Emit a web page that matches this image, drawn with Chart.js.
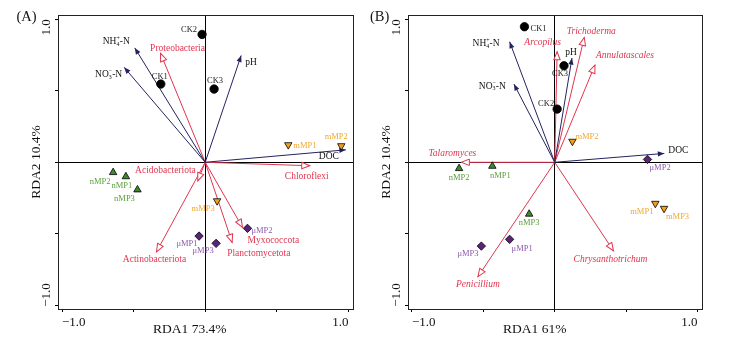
<!DOCTYPE html>
<html>
<head>
<meta charset="utf-8">
<script src="https://cdn.jsdelivr.net/npm/chart.js@4.4.0/dist/chart.umd.min.js"></script>
<style>
  html, body { margin: 0; padding: 0; background: #fff; }
  #wrap { position: relative; width: 736px; height: 341px; }
  #wrap canvas { position: absolute; top: 0; }
</style>
</head>
<body>
<div id="wrap">
  <canvas id="rdaA" width="368" height="341" style="left:0"></canvas>
  <canvas id="rdaB" width="368" height="341" style="left:368px"></canvas>
</div>
<script>
// ---- data ----
const siteNames = ['CK1','CK2','CK3','nMP1','nMP2','nMP3','mMP1','mMP2','mMP3','μMP1','μMP2','μMP3'];
const sitesA_x = [-0.31, -0.022, 0.062, -0.554, -0.643, -0.473, 0.58, 0.95, 0.083, -0.043, 0.295, 0.076];
const sitesA_y = [0.547, 0.894, 0.512, -0.10, -0.071, -0.192, 0.122, 0.115, -0.27, -0.516, -0.462, -0.567];
const sitesB_x = [-0.212, 0.017, 0.065, -0.437, -0.67, -0.179, 0.705, 0.124, 0.766, -0.316, 0.65, -0.514];
const sitesB_y = [0.948, 0.372, 0.675, -0.027, -0.043, -0.362, -0.288, 0.146, -0.323, -0.539, 0.02, -0.586];

const envNames = ['NH4+-N', 'NO3−-N', 'pH', 'DOC'];
const envA_x = [-0.492, -0.566, 0.251, 0.982];
const envA_y = [0.80, 0.664, 0.747, 0.087];
const envB_x = [-0.316, -0.286, 0.121, 0.768];
const envB_y = [0.843, 0.547, 0.729, 0.062];

const taxaA = ['Proteobacteria','Chloroflexi','Acidobacteriota','Actinobacteriota','Myxococcota','Planctomycetota'];
const taxaA_x = [-0.312, 0.73, -0.052, -0.34, 0.26, 0.188];
const taxaA_y = [0.762, -0.024, -0.13, -0.626, -0.455, -0.56];
const taxaB = ['Trichoderma','Arcopilus','Annulatascales','Talaromyces','Penicillium','Chrysanthotrichum'];
const taxaB_x = [0.207, 0.017, 0.282, -0.654, -0.538, 0.412];
const taxaB_y = [0.873, 0.773, 0.68, 0.0, -0.80, -0.619];

const titlesA = ['RDA1 73.4%', 'RDA2 10.4%'];
const titlesB = ['RDA1 61%', 'RDA2 10.4%'];
const tickVals = [-1, -0.5, 0, 0.5, 1];
const tickText = ['−1.0', '1.0'];

// ---- styling ----
const SERIF = "'Liberation Serif', 'Times New Roman', serif";
const NAVY = '#23235f';
const RED = '#e0354f';
const groups = [
  { key: 'CK',  fill: '#000000', style: 'circle',   r: 4.2, rot: 0,   text: '#222222' },
  { key: 'nMP', fill: '#3f8a2f', style: 'triangle', r: 4.3, rot: 0,   text: '#5c9e3c' },
  { key: 'mMP', fill: '#f2a01c', style: 'triangle', r: 4.3, rot: 180, text: '#f0a830' },
  { key: 'μMP', fill: '#5a2377', style: 'rectRot',  r: 4.2, rot: 0,   text: '#8c5aae' }
];

// label offsets in px from point / arrow tip: [dx, dy, align]
const siteLabA = [[-1,-7,'center'],[-13,-5,'center'],[1,-8,'center'],[-4,9,'center'],[-13,9,'center'],[-13,9,'center'],
                  [5,1,'left'],[-5,-9,'center'],[-14,8,'center'],[-12,8,'center'],[4,2,'left'],[-13,7,'center']];
const siteLabB = [[6,2,'left'],[-3,-5,'right'],[-4,8,'center'],[8,10,'center'],[0,9,'center'],[0,9,'center'],
                  [-13.5,8,'center'],[3,-5,'left'],[13.5,8,'center'],[12.5,9,'center'],[12.6,8,'center'],[-13.4,8,'center']];
const envLabA = [[-5,-6,'right'],[-2,7,'right'],[4,7,'left'],[-7,7,'right']];
const envLabB = [[-10,2,'right'],[-8,2,'right'],[-1,-6,'center'],[4,-3,'left']];
const taxaLabA = [[17,-5,'center'],[-3,11,'center'],[-2,-10,'right'],[-2,8,'center'],[5,13,'left'],[-5,11,'left']];
const taxaLabB = [[7,-6,'center'],[-14.5,-9,'center'],[1,-10,'left'],[-9,-9,'center'],[0,8,'center'],[-3,9,'center']];

const rich = {
  'NH4+-N': [['NH'], ['4', '+'], ['-N']],
  'NO3−-N': [['NO'], ['3', '−'], ['-N']]
};

function drawRich(ctx, text, x, y, align, size, color, style) {
  const parts = rich[text] || [[text]];
  const big = (style || '') + ' ' + size + 'px ' + SERIF;
  const small = (style || '') + ' ' + (size * 0.62) + 'px ' + SERIF;
  const widths = parts.map(p => {
    if (p.length === 1) { ctx.font = big; return ctx.measureText(p[0]).width; }
    ctx.font = small;
    return Math.max(ctx.measureText(p[0]).width, ctx.measureText(p[1]).width);
  });
  const total = widths.reduce((a, b) => a + b, 0);
  let cx = align === 'left' ? x : (align === 'right' ? x - total : x - total / 2);
  ctx.fillStyle = color;
  ctx.textAlign = 'left';
  ctx.textBaseline = 'middle';
  parts.forEach((p, i) => {
    if (p.length === 1) {
      ctx.font = big;
      ctx.fillText(p[0], cx, y);
    } else {
      ctx.font = small;
      ctx.fillText(p[0], cx, y + size * 0.3);
      ctx.fillText(p[1], cx, y - size * 0.38);
    }
    cx += widths[i];
  });
}

function arrowHead(ctx, x0, y0, x1, y1, open) {
  const a = Math.atan2(y1 - y0, x1 - x0);
  const L = open ? 8 : 6.5, W = open ? 3.2 : 2.6;
  ctx.save();
  ctx.translate(x1, y1);
  ctx.rotate(a);
  ctx.beginPath();
  ctx.moveTo(0, 0);
  ctx.lineTo(-L, -W);
  ctx.lineTo(-L, W);
  ctx.closePath();
  if (open) {
    ctx.fillStyle = '#fff';
    ctx.fill();
    ctx.strokeStyle = RED;
    ctx.lineWidth = 1;
    ctx.stroke();
  } else {
    ctx.fillStyle = NAVY;
    ctx.fill();
  }
  ctx.restore();
}

function makeRda(canvasId, p) {
  const datasets = [];
  p.envX.forEach((x, i) => {
    datasets.push({ data: [{x: 0, y: 0}, {x: x, y: p.envY[i]}], showLine: true, borderColor: NAVY,
      borderWidth: 1, pointRadius: 0, order: 2, head: 'fill' });
  });
  p.taxaX.forEach((x, i) => {
    datasets.push({ data: [{x: 0, y: 0}, {x: x, y: p.taxaY[i]}], showLine: true, borderColor: RED,
      borderWidth: 1, pointRadius: 0, order: 2, head: 'open' });
  });
  groups.forEach(g => {
    const pts = [];
    siteNames.forEach((n, i) => { if (n.startsWith(g.key)) pts.push({x: p.siteX[i], y: p.siteY[i]}); });
    datasets.push({ data: pts, pointStyle: g.style, pointRadius: g.r, rotation: g.rot,
      backgroundColor: g.fill, borderColor: '#000', borderWidth: 0.8, order: 1 });
  });

  const rdaPlugin = {
    id: 'rda',
    beforeDatasetsDraw(chart) {
      const a = chart.chartArea, ctx = chart.ctx;
      ctx.save();
      ctx.strokeStyle = '#222';
      ctx.lineWidth = 1;
      ctx.strokeRect(Math.round(a.left) + 0.5, Math.round(a.top) + 0.5,
        Math.round(a.right - a.left), Math.round(a.bottom - a.top));
      ctx.restore();
    },
    afterDatasetDraw(chart, args) {
      const ds = chart.data.datasets[args.index];
      if (!ds.head) return;
      const pts = args.meta.data;
      arrowHead(chart.ctx, pts[0].x, pts[0].y, pts[1].x, pts[1].y, ds.head === 'open');
    },
    afterDatasetsDraw(chart) {
      const ctx = chart.ctx, sx = chart.scales.x, sy = chart.scales.y;
      ctx.save();
      siteNames.forEach((n, i) => {
        const g = groups.find(gr => n.startsWith(gr.key));
        const o = p.siteLab[i];
        drawRich(ctx, n, sx.getPixelForValue(p.siteX[i]) + o[0], sy.getPixelForValue(p.siteY[i]) + o[1], o[2], 8.5, g.text);
      });
      envNames.forEach((n, i) => {
        const o = p.envLab[i];
        drawRich(ctx, n, sx.getPixelForValue(p.envX[i]) + o[0], sy.getPixelForValue(p.envY[i]) + o[1], o[2], 9.5, '#111');
      });
      p.taxa.forEach((n, i) => {
        const o = p.taxaLab[i];
        drawRich(ctx, n, sx.getPixelForValue(p.taxaX[i]) + o[0], sy.getPixelForValue(p.taxaY[i]) + o[1], o[2], 9.5, RED, p.taxaStyle);
      });
      ctx.restore();
    },
    afterDraw(chart) {
      const ctx = chart.ctx, a = chart.chartArea, sy = chart.scales.y;
      ctx.save();
      ctx.fillStyle = '#111';
      // panel letter
      ctx.font = '14.5px ' + SERIF;
      ctx.textAlign = 'left';
      ctx.textBaseline = 'middle';
      ctx.fillText(p.letter, p.letterX, 17);
      // x title
      ctx.font = '13.5px ' + SERIF;
      ctx.fillText(p.titles[0], a.left + 95, a.bottom + 20);
      // y title + y tick labels (rotated)
      ctx.save();
      ctx.translate(a.left - 22, (a.top + a.bottom) / 2);
      ctx.rotate(-Math.PI / 2);
      ctx.textAlign = 'center';
      ctx.fillText(p.titles[1], 0, 0);
      ctx.restore();
      ctx.font = '13px ' + SERIF;
      [[1, 'right', tickText[1]], [-1, 'left', tickText[0]]].forEach(t => {
        ctx.save();
        ctx.translate(a.left - 11, sy.getPixelForValue(t[0]) + (t[0] < 0 ? 1.5 : 0));
        ctx.rotate(-Math.PI / 2);
        ctx.textAlign = t[1];
        ctx.fillText(t[2], 0, 0);
        ctx.restore();
      });
      ctx.restore();
    }
  };

  const zeroOnly = c => (c.tick && c.tick.value === 0) ? '#000' : 'rgba(0,0,0,0)';

  return new Chart(document.getElementById(canvasId), {
    type: 'scatter',
    data: { datasets: datasets },
    options: {
      responsive: false,
      animation: false,
      events: [],
      layout: { padding: { left: p.padL, right: p.padR, top: 15, bottom: 0 } },
      plugins: { legend: { display: false }, tooltip: { enabled: false } },
      scales: {
        x: {
          type: 'linear', min: -1.028, max: 1.032,
          afterBuildTicks: s => { s.ticks = tickVals.map(v => ({ value: v })); },
          afterFit: s => { s.height = 32; },
          grid: { color: zeroOnly, tickColor: '#000', tickLength: 3, lineWidth: 1 },
          border: { display: true, color: '#222', width: 1 },
          ticks: {
            align: 'inner', padding: 3, color: '#111', maxRotation: 0, autoSkip: false,
            font: { family: SERIF, size: 13 },
            callback: v => v === -1 ? tickText[0] : (v === 1 ? tickText[1] : '')
          }
        },
        y: {
          type: 'linear', min: -1.026, max: 1.03,
          afterBuildTicks: s => { s.ticks = tickVals.map(v => ({ value: v })); },
          afterFit: s => { s.width = 3; },
          grid: { color: zeroOnly, tickColor: '#000', tickLength: 3, lineWidth: 1 },
          border: { display: true, color: '#222', width: 1 },
          ticks: { display: false }
        }
      }
    },
    plugins: [rdaPlugin]
  });
}

makeRda('rdaA', {
  letter: '(A)', letterX: 16.5, titles: titlesA, padL: 55, padR: 15,
  siteX: sitesA_x, siteY: sitesA_y, siteLab: siteLabA,
  envX: envA_x, envY: envA_y, envLab: envLabA,
  taxa: taxaA, taxaX: taxaA_x, taxaY: taxaA_y, taxaLab: taxaLabA, taxaStyle: ''
});
makeRda('rdaB', {
  letter: '(B)', letterX: 2, titles: titlesB, padL: 37, padR: 34,
  siteX: sitesB_x, siteY: sitesB_y, siteLab: siteLabB,
  envX: envB_x, envY: envB_y, envLab: envLabB,
  taxa: taxaB, taxaX: taxaB_x, taxaY: taxaB_y, taxaLab: taxaLabB, taxaStyle: 'italic'
});
</script>
</body>
</html>
